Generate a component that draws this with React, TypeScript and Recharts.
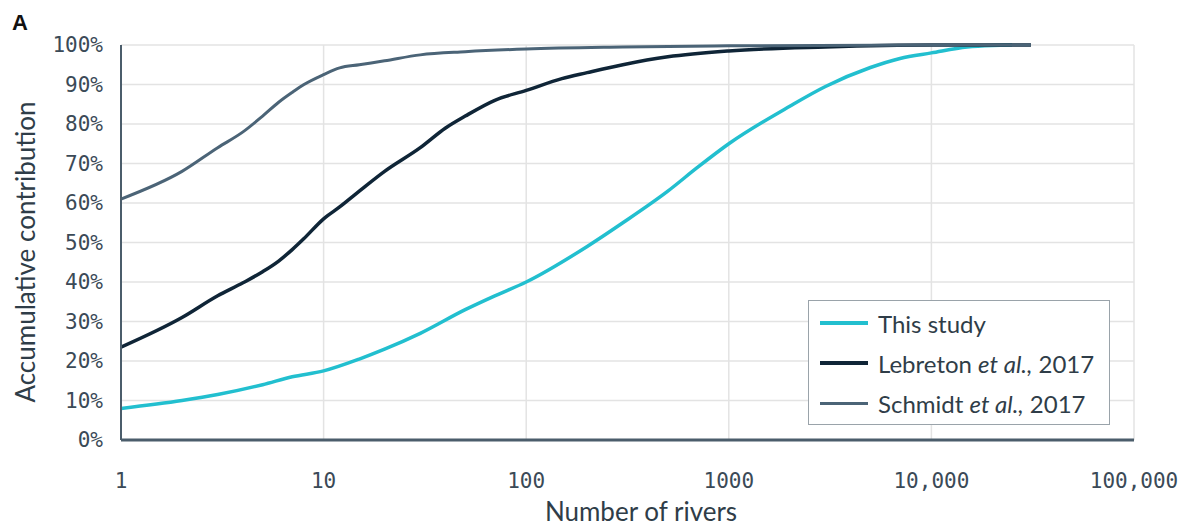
import React from "react";
import { LineChart, Line, XAxis, YAxis, CartesianGrid, Legend, Label } from "recharts";

const studyRivers = [1, 2, 3, 5, 7, 10, 15, 20, 30, 50, 70, 100, 200, 300, 500, 700, 1000, 2000, 3000, 5000, 7000, 10000, 15000, 20000, 25000];
const studyShare = [8, 10, 11.5, 14, 16, 17.5, 20.5, 23, 27, 33, 36.5, 40, 49, 55, 63, 69, 75, 84.5, 89.5, 94.3, 96.6, 98, 99.5, 99.9, 100];

const lebretonRivers = [1, 2, 3, 4, 5, 6, 7, 8, 10, 12, 15, 20, 30, 40, 50, 70, 100, 150, 200, 300, 500, 1000, 3000, 10000, 31000];
const lebretonShare = [23.5, 31, 36.5, 39.8, 42.6, 45.3, 48.2, 51, 56, 59, 63, 68, 74, 79, 82, 86, 88.5, 91.5, 93, 95, 97, 98.5, 99.5, 100, 100];

const schmidtRivers = [1, 2, 3, 4, 5, 6, 7, 8, 10, 12, 15, 20, 30, 50, 100, 300, 1000, 10000, 31000];
const schmidtShare = [61, 68, 74, 78, 82, 85.5, 88, 90, 92.5, 94.2, 95, 96, 97.5, 98.3, 99, 99.5, 99.8, 100, 100];

const xTicks = [1, 10, 100, 1000, 10000, 100000];
const xTickLabels = ["1", "10", "100", "1000", "10,000", "100,000"];
const yTicks = [0, 10, 20, 30, 40, 50, 60, 70, 80, 90, 100];

const toRows = (xs: number[], ys: number[]) => xs.map((n, i) => ({ n, v: ys[i] }));

const series = [
  { key: "study", name: "This study", data: toRows(studyRivers, studyShare), color: "#22bfcf", width: 3.5, prefix: "This study", italic: "", suffix: "" },
  { key: "lebreton", name: "Lebreton et al., 2017", data: toRows(lebretonRivers, lebretonShare), color: "#0f2537", width: 3.5, prefix: "Lebreton ", italic: "et al.,", suffix: " 2017" },
  { key: "schmidt", name: "Schmidt et al., 2017", data: toRows(schmidtRivers, schmidtShare), color: "#4b6477", width: 3, prefix: "Schmidt ", italic: "et al.,", suffix: " 2017" },
];

const labelFont = "Lato, 'Open Sans', sans-serif";
const tickFont = "'DejaVu Sans Mono', monospace";

const LegendBox = () => (
  <div
    style={{
      width: 302,
      height: 125,
      border: "1.5px solid #9aa3aa",
      background: "#fff",
      boxSizing: "border-box",
      paddingTop: 2,
      fontFamily: labelFont,
      fontSize: 24,
      color: "#2f3d48",
      textAlign: "left",
    }}
  >
    {series.map((s) => (
      <div key={s.key} style={{ display: "flex", alignItems: "center", height: 40 }}>
        <div style={{ width: 48, height: s.width, background: s.color, marginLeft: 11, marginRight: 10, flexShrink: 0 }} />
        <span style={{ whiteSpace: "nowrap" }}>
          {s.prefix}
          {s.italic && <i>{s.italic}</i>}
          {s.suffix}
        </span>
      </div>
    ))}
  </div>
);

export default function App() {
  return (
    <div style={{ position: "absolute", left: 0, top: 0, width: 1179, height: 526, background: "#fff" }}>
      <div
        style={{
          position: "absolute",
          left: 12,
          top: 10,
          fontFamily: "'Liberation Sans', Arial, sans-serif",
          fontWeight: "bold",
          fontSize: 22,
          color: "#111",
          zIndex: 2,
        }}
      >
        A
      </div>
      <LineChart width={1179} height={526} margin={{ top: 45, right: 45, bottom: 0, left: 0 }}>
        <CartesianGrid stroke="#e3e3e3" strokeWidth={1.5} />
        <XAxis
          type="number"
          dataKey="n"
          scale="log"
          domain={[1, 100000]}
          ticks={xTicks}
          tickFormatter={(v: number) => xTickLabels[xTicks.indexOf(v)] ?? String(v)}
          allowDataOverflow
          height={86}
          tickLine={false}
          tickSize={0}
          tickMargin={33}
          interval={0}
          stroke="#4b5d6b"
          strokeWidth={3}
          tick={{ fill: "#3b4a57", fontFamily: tickFont, fontSize: 21 }}
        >
          <Label
            content={() => (
              <text x={641} y={521} textAnchor="middle" fill="#2f3d48" fontFamily={labelFont} fontSize={26}>
                Number of rivers
              </text>
            )}
          />
        </XAxis>
        <YAxis
          type="number"
          domain={[0, 100]}
          ticks={yTicks}
          interval={0}
          tickFormatter={(v: number) => `${v}%`}
          width={121}
          tickLine={false}
          tickSize={0}
          tickMargin={18}
          stroke="#4b5d6b"
          strokeWidth={2}
          tick={{ fill: "#3b4a57", fontFamily: tickFont, fontSize: 21 }}
        >
          <Label
            content={() => (
              <text
                x={25}
                y={252}
                transform="rotate(-90 25 252)"
                textAnchor="middle"
                dominantBaseline="central"
                fill="#2f3d48"
                fontFamily={labelFont}
                fontSize={26}
              >
                Accumulative contribution
              </text>
            )}
          />
        </YAxis>
        <Legend
          layout="horizontal"
          verticalAlign="middle"
          align="center"
          content={<LegendBox />}
          wrapperStyle={{ position: "absolute", left: 808, top: 300, width: 302, height: 125 }}
        />
        {series.map((s) => (
          <Line
            key={s.key}
            data={s.data}
            dataKey="v"
            name={s.name}
            type="monotone"
            stroke={s.color}
            strokeWidth={s.width}
            dot={false}
            activeDot={false}
            isAnimationActive={false}
          />
        ))}
      </LineChart>
    </div>
  );
}
